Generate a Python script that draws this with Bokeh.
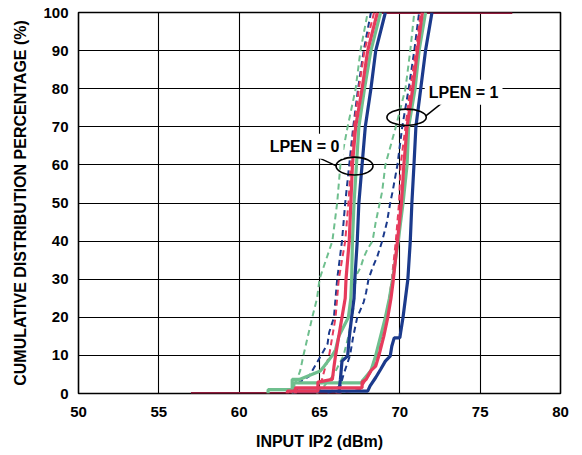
import numpy as np
from bokeh.plotting import figure
from bokeh.models import FixedTicker, Label
from bokeh.embed import file_html
from bokeh.resources import INLINE

# ---- axis ticks ----
x_ticks = [50, 55, 60, 65, 70, 75, 80]
y_ticks = [0, 10, 20, 30, 40, 50, 60, 70, 80, 90, 100]

# ---- LPEN = 0 group ----
gd0_x = [63.3, 63.4, 63.6, 63.8, 64.0, 64.55, 64.85, 65.0, 65.8, 66.1, 66.3, 66.75, 67.25, 67.55, 68.0]
gd0_y = [0, 2, 3.7, 6, 10, 20, 25, 30, 40, 50, 60, 70, 80, 90, 100]
bd0_x = [63.5, 63.7, 64.35, 64.55, 65.1, 65.5, 65.6, 65.9, 66.0, 66.1, 66.4, 66.6, 66.85, 67.1, 67.4, 67.75, 68.2]
bd0_y = [0, 2.8, 4.5, 6, 10, 13, 16, 20, 25, 30, 40, 50, 60, 70, 80, 90, 100]
rd0_x = [64.9, 65.05, 65.3, 65.6, 66.0, 66.2, 66.6, 66.8, 66.95, 67.15, 67.45, 67.8, 68.4]
rd0_y = [0, 2, 6, 10, 20, 30, 40, 50, 60, 70, 80, 90, 100]
rs0_x = [63.0, 63.0, 64.9, 64.9, 65.8, 65.9, 66.0, 66.4, 66.6, 66.65, 66.85, 66.95, 67.05, 67.25, 67.65, 68.0, 68.6]
rs0_y = [0, 0.6, 0.6, 3, 3.7, 7, 10, 20, 25, 30, 40, 50, 60, 70, 80, 90, 100]
gs0_x = [61.8, 61.8, 63.3, 63.3, 63.75, 65.05, 65.3, 65.8, 66.0, 66.2, 66.8, 66.95, 67.0, 67.05, 67.15, 67.3, 67.45, 67.8, 68.2, 68.8]
gs0_y = [0, 1, 1, 3.7, 3.7, 5.9, 7.2, 10, 11.5, 15, 20, 25, 30, 40, 50, 60, 70, 80, 90, 100]
bs0_x = [66.2, 66.3, 66.4, 66.75, 66.85, 67.0, 67.15, 67.2, 67.35, 67.45, 67.65, 67.85, 68.2, 68.5, 69.1]
bs0_y = [0, 3.7, 8.5, 9.8, 14.6, 20, 25, 30, 40, 50, 60, 70, 80, 90, 100]

# ---- LPEN = 1 group ----
gd1_x = [64.8, 65.3, 65.9, 66.5, 66.8, 67.1, 67.25, 67.35, 67.55, 67.75, 68.0, 68.3, 68.5, 68.75, 68.9, 69.1, 69.75, 70.35, 70.65, 70.9]
gd1_y = [0, 2, 5, 10, 15, 22, 30, 31.5, 33, 35.7, 38, 40, 45, 50, 53, 60, 70, 80, 90, 100]
bd1_x = [65.5, 66.3, 66.5, 66.9, 67.1, 67.35, 67.75, 67.9, 68.05, 68.3, 68.6, 68.9, 69.2, 69.4, 69.55, 69.85, 70.15, 70.55, 70.9, 71.2]
bd1_y = [0, 2, 5, 10, 15, 20, 24, 26.5, 30, 33, 36, 40, 45, 50, 53, 60, 70, 80, 90, 100]
rd1_x = [66.0, 67.5, 67.8, 68.1, 68.4, 68.6, 69.1, 69.35, 69.5, 69.75, 69.95, 70.05, 70.35, 70.65, 71.0, 71.3]
rd1_y = [0, 1, 3, 5, 7, 10, 20, 25, 30, 40, 50, 60, 70, 80, 90, 100]
rs1_x = [63.5, 63.5, 67.65, 67.65, 67.9, 68.2, 68.5, 68.7, 69.0, 69.25, 69.45, 69.6, 69.85, 70.1, 70.25, 70.45, 70.8, 71.1, 71.4]
rs1_y = [0, 1.5, 1.5, 3, 3.7, 6, 7.2, 10, 15, 20, 25, 30, 40, 50, 60, 70, 80, 90, 100]
gs1_x = [63.4, 63.4, 67.6, 67.7, 68.0, 68.2, 68.5, 69.1, 69.35, 69.55, 69.9, 70.2, 70.45, 70.55, 70.95, 71.2, 71.6]
gs1_y = [0, 2.8, 2.8, 3.5, 5, 6, 10, 20, 25, 30, 40, 50, 60, 70, 80, 90, 100]
bs1_x = [63.4, 63.4, 68.0, 68.15, 68.5, 68.8, 69.1, 69.4, 69.5, 69.65, 70.0, 70.05, 70.2, 70.35, 70.5, 70.65, 70.75, 70.88, 71.0, 71.3, 71.6, 72.0]
bs1_y = [0, 0.6, 0.6, 2, 4.2, 6.3, 8.5, 9.8, 12.4, 14.6, 14.6, 16, 20, 25, 30, 40, 50, 60, 70, 80, 90, 100]

# ---- envelope (dark red) ----
env_x = [57.0, 66.0, np.nan, 68.8, 77.0]
env_y = [0, 0, np.nan, 100, 100]

# ---- annotations ----
ann_text = ["LPEN = 0", "LPEN = 1"]
ann_tx = [64.07, 73.97]
ann_ty = [64.9, 79.05]
ell_x = [67.18, 70.42]
ell_y = [59.7, 72.5]
ell_w = [2.3, 2.45]
ell_h = [4.7, 4.3]
lead_x0 = [64.9, 71.6]
lead_y0 = [62.0, 72.8]
lead_x1 = [66.08, 72.67]
lead_y1 = [59.7, 76.4]

BLUE = "#1B3A8C"
RED = "#E63B5C"
GREEN = "#6FBF8E"
MAROON = "#8E1B3B"
FONT = "Liberation Sans"

p = figure(width=574, height=452, x_range=(50, 80), y_range=(0, 100),
           output_backend="svg", toolbar_location=None,
           min_border_left=78, min_border_right=14, min_border_top=12, min_border_bottom=58)

p.background_fill_color = "white"
p.border_fill_color = "white"
p.outline_line_color = "black"
p.outline_line_width = 1.6

for ax in (p.xaxis[0], p.yaxis[0]):
    ax.axis_line_color = None
    ax.major_tick_line_color = None
    ax.minor_tick_line_color = None
    ax.major_tick_out = 0
    ax.major_tick_in = 0
    ax.major_label_text_font = FONT
    ax.major_label_text_font_style = "bold"
    ax.major_label_text_font_size = "15px"
    ax.major_label_text_color = "black"
    ax.axis_label_text_font = FONT
    ax.axis_label_text_font_style = "bold"
    ax.axis_label_text_font_size = "16px"
    ax.axis_label_text_color = "black"

p.xaxis.ticker = FixedTicker(ticks=x_ticks)
p.yaxis.ticker = FixedTicker(ticks=y_ticks)
p.xaxis.axis_label = "INPUT IP2 (dBm)"
p.yaxis.axis_label = "CUMULATIVE DISTRIBUTION PERCENTAGE (%)"
p.xaxis.major_label_standoff = 13
p.yaxis.major_label_standoff = 10
p.xaxis.axis_label_standoff = 13
p.yaxis.axis_label_standoff = 11

p.xgrid.ticker = FixedTicker(ticks=x_ticks)
p.ygrid.ticker = FixedTicker(ticks=y_ticks)
p.grid.grid_line_color = "black"
p.grid.grid_line_width = 1.1

# envelope
p.line(env_x, env_y, color=MAROON, line_width=3)

# dashed series
dash = "6 4"
p.line(gd0_x, gd0_y, color=GREEN, line_width=2, line_dash=dash)
p.line(bd0_x, bd0_y, color=BLUE, line_width=2, line_dash=dash)
p.line(rd0_x, rd0_y, color=RED, line_width=2, line_dash=dash)
p.line(gd1_x, gd1_y, color=GREEN, line_width=2, line_dash=dash)
p.line(bd1_x, bd1_y, color=BLUE, line_width=2, line_dash=dash)
p.line(rd1_x, rd1_y, color=RED, line_width=2, line_dash=dash)

# solid series
p.line(gs0_x, gs0_y, color=GREEN, line_width=3.2)
p.line(gs1_x, gs1_y, color=GREEN, line_width=3.2)
p.line(bs0_x, bs0_y, color=BLUE, line_width=3.2)
p.line(bs1_x, bs1_y, color=BLUE, line_width=3.2)
p.line(rs0_x, rs0_y, color=RED, line_width=3.2)
p.line(rs1_x, rs1_y, color=RED, line_width=3.2)

# annotations
p.ellipse(x=ell_x, y=ell_y, width=ell_w, height=ell_h,
          fill_color=None, line_color="black", line_width=1.6)
p.segment(x0=lead_x0, y0=lead_y0, x1=lead_x1, y1=lead_y1,
          line_color="black", line_width=1.4)
for t, tx, ty in zip(ann_text, ann_tx, ann_ty):
    p.add_layout(Label(x=tx, y=ty, text=t, text_align="center", text_baseline="middle",
                       text_font=FONT, text_font_style="bold", text_font_size="16px",
                       text_color="black", background_fill_color="white", padding=4))

open("out.html", "w").write(file_html(p, INLINE))
